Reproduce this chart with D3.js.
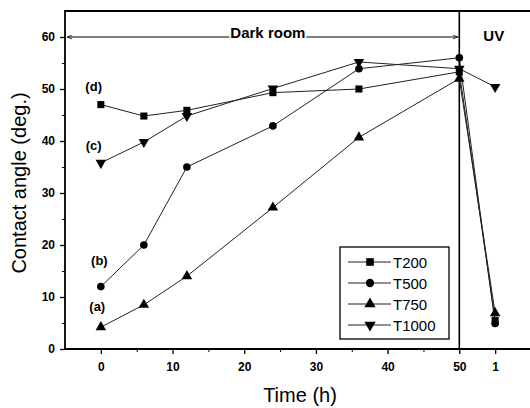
<!DOCTYPE html>
<html lang="en">
<head>
<meta charset="UTF-8" />
<title>Contact angle vs time</title>
<script src="https://cdn.jsdelivr.net/npm/d3@7"></script>
<style>
  body { margin: 0; background: #fff; }
  svg { display: block; font-family: "Liberation Sans", Arial, sans-serif; }
  .tick text { font-weight: bold; font-size: 12px; }
</style>
</head>
<body>
<svg id="chart" width="530" height="408"></svg>
<script>
// x positions: hours in dark room, the last one (55) is the UV point
var xVals = [0, 6, 12, 24, 36, 50, 55];
var xTickVals = [0, 10, 20, 30, 40, 50, 55];
var xTickLabels = ["0", "10", "20", "30", "40", "50", "1"];
var xMinorVals = [5, 15, 25, 35, 45];
var yTickVals = [0, 10, 20, 30, 40, 50, 60];
var yMinorVals = [5, 15, 25, 35, 45, 55];

var seriesNames = ["T200", "T500", "T750", "T1000"];
var t200 = [47, 44.8, 45.9, 49.3, 50, 53.3, 5.5];
var t500 = [12, 20, 35, 42.9, 53.9, 56, 4.9];
var t750 = [4.2, 8.5, 14, 27.2, 40.7, 52, 6.9];
var t1000 = [35.8, 39.8, 44.8, 50.1, 55.2, 53.9, 50.4];

var curveLabels = ["(a)", "(b)", "(c)", "(d)"];
var curveLabelPos = [[-0.5, 7.3], [-0.2, 16.2], [-1, 38.3], [-1, 49.6]];

var svg = d3.select("#chart");
var mLeft = 65, mRight = 531, mTop = 11, mBottom = 349;

var x = d3.scaleLinear().domain([-5, 60]).range([mLeft, mRight]);
var y = d3.scaleLinear().domain([0, 65]).range([mBottom, mTop]);

// axes
var xAxis = d3.axisBottom(x).tickValues(xTickVals)
  .tickFormat(function(d, i) { return xTickLabels[i]; })
  .tickSize(5).tickPadding(8);
var gx = svg.append("g").attr("transform", "translate(0," + mBottom + ")").call(xAxis);
gx.select(".domain").remove();
gx.selectAll("line").attr("stroke-width", 1.3);

svg.append("g").attr("transform", "translate(0," + mBottom + ")")
  .call(d3.axisBottom(x).tickValues(xMinorVals).tickSize(3).tickFormat(""))
  .select(".domain").remove();

var yAxis = d3.axisLeft(y).tickValues(yTickVals).tickSize(5).tickPadding(5);
var gy = svg.append("g").attr("transform", "translate(" + mLeft + ",0)").call(yAxis);
gy.select(".domain").remove();
gy.selectAll("line").attr("stroke-width", 1.3);

svg.append("g").attr("transform", "translate(" + mLeft + ",0)")
  .call(d3.axisLeft(y).tickValues(yMinorVals).tickSize(3).tickFormat(""))
  .select(".domain").remove();

// frame
svg.append("path")
  .attr("d", "M" + mRight + "," + mTop + "H" + mLeft + "V" + mBottom + "H" + mRight)
  .attr("fill", "none").attr("stroke", "#000").attr("stroke-width", 1.8);

// separator between dark room and UV
svg.append("line")
  .attr("x1", x(50)).attr("x2", x(50)).attr("y1", y(65)).attr("y2", y(0))
  .attr("stroke", "#000").attr("stroke-width", 1.6);

// dark room arrow
var defs = svg.append("defs");
defs.append("marker").attr("id", "ah").attr("viewBox", "0 0 10 10")
  .attr("refX", 10).attr("refY", 5).attr("markerWidth", 7).attr("markerHeight", 5)
  .attr("orient", "auto-start-reverse")
  .append("path").attr("d", "M0,1L10,5L0,9").attr("fill", "none").attr("stroke", "#000").attr("stroke-width", 1.5);

svg.append("line")
  .attr("x1", x(-4.7)).attr("x2", x(49.8)).attr("y1", y(60)).attr("y2", y(60))
  .attr("stroke", "#000").attr("stroke-width", 1)
  .attr("marker-start", "url(#ah)").attr("marker-end", "url(#ah)");

var darkBg = svg.append("rect").attr("fill", "#fff");
var dark = svg.append("text").attr("x", x(23.3)).attr("y", y(60) + 1)
  .attr("text-anchor", "middle").attr("font-weight", "bold").attr("font-size", 15)
  .text("Dark room");
var bb = dark.node().getBBox();
darkBg.attr("x", bb.x - 1).attr("y", bb.y).attr("width", bb.width + 2).attr("height", bb.height - 3);

svg.append("text").attr("x", x(54.8)).attr("y", y(59.2))
  .attr("text-anchor", "middle").attr("font-weight", "bold").attr("font-size", 15)
  .text("UV");

// series
var series = [t200, t500, t750, t1000];
var symbols = [d3.symbolSquare, d3.symbolCircle, d3.symbolTriangle, d3.symbolTriangle];
var sizes = [50, 46, 48, 48];
var rotations = [0, 0, 0, 180];

var line = d3.line().x(function(d, i) { return x(xVals[i]); }).y(function(d) { return y(d); });

series.forEach(function(vals, s) {
  svg.append("path").attr("d", line(vals))
    .attr("fill", "none").attr("stroke", "#222").attr("stroke-width", 1);
});
series.forEach(function(vals, s) {
  svg.selectAll(null).data(vals).enter().append("path")
    .attr("d", d3.symbol().type(symbols[s]).size(sizes[s]))
    .attr("transform", function(d, i) {
      return "translate(" + x(xVals[i]) + "," + y(d) + ") rotate(" + rotations[s] + ")";
    })
    .attr("fill", "#000");
});

// curve labels
curveLabels.forEach(function(t, i) {
  svg.append("text").attr("x", x(curveLabelPos[i][0])).attr("y", y(curveLabelPos[i][1]))
    .attr("text-anchor", "middle").attr("font-weight", "bold").attr("font-size", 13)
    .text(t);
});

// legend
var lg = svg.append("g").attr("transform", "translate(340,247)");
lg.append("rect").attr("width", 109).attr("height", 92)
  .attr("fill", "#fff").attr("stroke", "#000").attr("stroke-width", 1.3);
seriesNames.forEach(function(name, i) {
  var yy = 15 + i * 21;
  lg.append("line").attr("x1", 8).attr("x2", 51).attr("y1", yy).attr("y2", yy)
    .attr("stroke", "#222").attr("stroke-width", 1);
  lg.append("path").attr("d", d3.symbol().type(symbols[i]).size(sizes[i] + 8))
    .attr("transform", "translate(30," + yy + ") rotate(" + rotations[i] + ")")
    .attr("fill", "#000");
  lg.append("text").attr("x", 53).attr("y", yy + 5.5).attr("font-size", 15).text(name);
});

// axis titles
svg.append("text").attr("x", (mLeft + mRight) / 2 + 2).attr("y", 402)
  .attr("text-anchor", "middle").attr("font-size", 20).text("Time (h)");
svg.append("text").attr("transform", "translate(26,183) rotate(-90)")
  .attr("text-anchor", "middle").attr("font-size", 20).text("Contact angle (deg.)");
</script>
</body>
</html>
